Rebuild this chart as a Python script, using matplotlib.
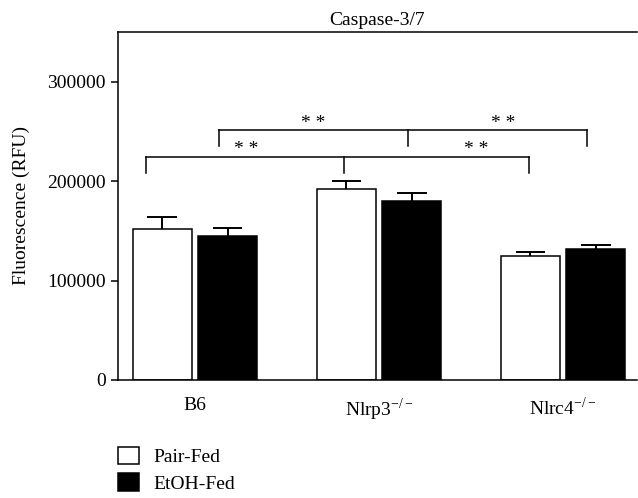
import numpy as np
import matplotlib
matplotlib.use("Agg")
import matplotlib.pyplot as plt
from matplotlib.patches import Patch

plt.rcParams['font.family'] = ['Liberation Serif', 'DejaVu Serif']
plt.rcParams['mathtext.fontset'] = 'custom'
plt.rcParams['mathtext.rm'] = 'Liberation Serif'

groups = ["B6", r"Nlrp3$^{-/-}$", r"Nlrc4$^{-/-}$"]
pair_fed = [151800, 192000, 124800]
pair_err = [12000, 8000, 3800]
etoh_fed = [144700, 180000, 132000]
etoh_err = [8100, 8000, 3400]
series = ["Pair-Fed", "EtOH-Fed"]

# significance brackets: (x left, x mid, x right, y bar, y legs)
brackets = [
    (-0.266, 0.81, 1.815, 224100, 208000),
    (0.130, 1.158, 2.13, 251300, 235000),
]
stars = [(0.277, 231500), (1.527, 231500), (0.641, 257500), (1.674, 257500)]

fig = plt.figure(figsize=(6.38, 4.98), dpi=100)
ax = fig.add_axes([0.185, 0.237, 0.813, 0.699])

x = np.arange(len(groups))
w = 0.32
off = 0.178
cap = 0.08
ax.bar(x - off, pair_fed, w, color='white', edgecolor='black', linewidth=1.1, zorder=2)
ax.bar(x + off, etoh_fed, w, color='black', edgecolor='black', linewidth=1.1, zorder=2)
# upper-only error bars
for xs, ys, es in ((x - off, pair_fed, pair_err), (x + off, etoh_fed, etoh_err)):
    tops = np.array(ys) + np.array(es)
    ax.vlines(xs, ys, tops, color='black', lw=1.4, zorder=1)
    ax.hlines(tops, xs - cap, xs + cap, color='black', lw=1.4, zorder=1)

for xl, xm, xr, yb, yl in brackets:
    ax.plot([xl, xr], [yb, yb], color='black', lw=1.1)
    for xx in (xl, xm, xr):
        ax.plot([xx, xx], [yb, yl], color='black', lw=1.1)
for sx, sy in stars:
    ax.text(sx, sy, "* *", ha='center', va='center', fontsize=14)

ax.set_xlim(-0.418, 2.40)
ax.set_ylim(0, 350000)
ax.set_yticks([0, 100000, 200000, 300000])
ax.set_yticklabels(["0", "100000", "200000", "300000"])
ax.set_xticks(x)
ax.set_xticklabels(groups)
ax.tick_params(axis='x', length=0, pad=12, labelsize=14)
ax.tick_params(axis='y', length=5, width=1.1, direction='out', labelsize=14, pad=4)
ax.spines['right'].set_visible(False)
for s in ('left', 'bottom', 'top'):
    ax.spines[s].set_linewidth(1.1)
ax.set_ylabel("Fluorescence (RFU)", fontsize=14, labelpad=12)
ax.set_title("Caspase-3/7", fontsize=14, pad=5)

handles = [Patch(facecolor='white', edgecolor='black', linewidth=1.1),
           Patch(facecolor='black', edgecolor='black', linewidth=1.1)]
fig.legend(handles, series, loc='upper left', bbox_to_anchor=(118 / 638, 1 - 447 / 498),
           frameon=False, fontsize=14, borderpad=0, borderaxespad=0,
           handlelength=1.1, handleheight=1.0, handletextpad=0.7, labelspacing=0.35)

fig.savefig("out.png", dpi=100)
